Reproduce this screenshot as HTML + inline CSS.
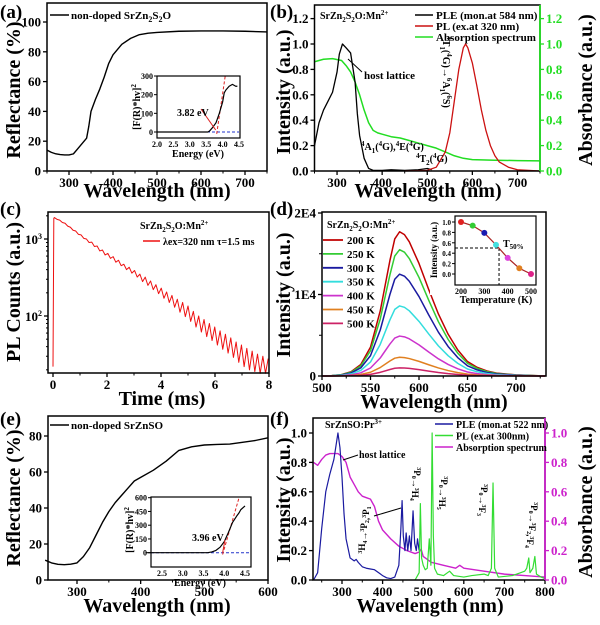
<!DOCTYPE html>
<html><head><meta charset="utf-8"><style>
html,body{margin:0;padding:0;background:#fff}
svg{display:block;font-family:"Liberation Serif",serif;font-weight:bold}
</style></head><body>
<svg id="fig" width="600" height="625" viewBox="0 0 600 625" xmlns="http://www.w3.org/2000/svg"></svg>
<script>
// ---- panel (a) data
const aWl=[250,260,270,280,290,300,310,320,330,340,345,350,360,370,380,390,400,420,440,460,480,500,550,600,650,700,750];
const aRefl=[14,12.5,11.5,11,10.8,10.8,11.5,15,18.5,22,30,40,48,55,63,72,78,85,89,91.5,92.5,93,93.8,94,94,93.8,93.3];
const aInsE=[2.0,3.0,3.55,3.6,3.7,3.8,3.9,4.0,4.05,4.1,4.2,4.3,4.4,4.45];
const aInsY=[0,0,0,5,25,50,100,160,210,225,245,255,245,245];
// ---- panel (b) data
const bPleWl=[250,260,270,280,290,300,305,312,320,330,340,345,350,360,370,380,400,420,450,480,500,510];
const bPle=[0.2,0.38,0.48,0.55,0.62,0.78,0.92,1.0,0.97,0.93,0.7,0.45,0.28,0.1,0.02,0.005,0.005,0.01,0.005,0.01,0.02,0.01];
const bPlWl=[450,500,520,540,550,560,570,580,585,590,600,610,620,630,640,650,660,680,700,750];
const bPl=[0,0.005,0.03,0.15,0.3,0.55,0.8,0.97,1.0,0.97,0.85,0.67,0.48,0.32,0.2,0.12,0.07,0.03,0.01,0];
const bAbsWl=[250,270,290,310,320,330,340,350,360,370,380,390,400,420,440,460,480,500,520,540,560,580,600,650,700,750];
const bAbs=[0.86,0.88,0.885,0.87,0.83,0.78,0.7,0.6,0.48,0.38,0.32,0.3,0.29,0.27,0.26,0.24,0.22,0.2,0.18,0.15,0.12,0.1,0.09,0.085,0.082,0.08];
// ---- panel (c) data
const cCounts=[1900,1800,1760,1640,1600,1470,1420,1300,1270,1150,1130,1020,1000,900,910,800,810,700,720,620,650,560,590,500,530,450,470,400,430,360,390,320,350,280,320,250,285,220,255,195,230,170,205,150,185,130,165,112,150,98,135,85,115,72,100,62,90,54,80,48,72,42,64,37,58,33,52,29,46,25,42,22,38,20,35,19,32,18,30,18,28];
const cStep=0.1;
// ---- panel (d) data
const dWl=[500,510,520,530,540,550,560,570,575,580,585,590,600,610,620,630,640,650,660,670,680,700,730];
const dProfile=[0,0.003,0.01,0.03,0.08,0.2,0.45,0.8,0.95,1.0,0.98,0.93,0.78,0.6,0.43,0.29,0.18,0.1,0.06,0.035,0.02,0.008,0];
const dTemps=["200 K","250 K","300 K","350 K","400 K","450 K","500 K"];
const dPeaks=[17700,15500,12500,8600,4900,2300,1000];
const dColors=["#c00000","#33cc33","#1a1aa0","#33dddd","#cc33cc","#e08020","#cc2266"];
const dInsT=[200,250,300,350,400,450,500];
const dInsI=[1.0,0.93,0.79,0.56,0.31,0.11,0.0];
const dInsC=["#e02020","#33cc33","#1a1ab0","#44e0e0","#dd44dd","#e08020","#dd2288"];
// ---- panel (e) data
const eWl=[250,260,270,280,290,300,310,320,330,340,350,360,370,380,390,400,420,440,460,480,500,520,540,560,580,600];
const eRefl=[11,9.5,8.7,8.5,8.8,9.5,13,18,25,32,38,43,47,51,55,57,61,66,72,74,75,75.3,75.5,76.5,77.5,79];
const eInsE=[2.1,3.0,3.6,3.7,3.8,3.9,4.0,4.1,4.2,4.3,4.35,4.4,4.5];
const eInsY=[0,0,0,8,25,60,120,220,330,400,430,470,510];
// ---- panel (f) data
const fPleWl=[230,240,250,260,270,280,290,295,300,305,310,320,330,335,340,350,360,370,380,390,400,410,420,430,440,445,448,451,455,458,462,466,470,475,479,483,486,490];
const fPle=[0,0.05,0.35,0.6,0.72,0.82,1.0,0.9,0.7,0.45,0.28,0.15,0.13,0.14,0.12,0.09,0.08,0.075,0.07,0.05,0.03,0.015,0.01,0.02,0.1,0.35,0.54,0.3,0.2,0.32,0.2,0.3,0.2,0.47,0.25,0.2,0.28,0.2];
const fPlWl=[480,490,493,496,500,505,510,515,519,522,525,528,535,550,565,575,600,620,650,660,668,672,676,685,720,740,750,755,760,763,770,775,779,790,800];
const fPl=[0,0.05,0.52,0.15,0.1,0.07,0.08,0.28,0.1,1.0,0.3,0.08,0.04,0.03,0.06,0.03,0.02,0.03,0.04,0.03,0.08,0.66,0.08,0.02,0.03,0.05,0.06,0.08,0.15,0.05,0.08,0.16,0.04,0.02,0.01];
const fAbsWl=[230,240,250,260,270,290,300,310,320,330,340,350,360,370,380,390,400,420,440,460,480,490,495,500,520,550,580,590,600,650,700,750,800];
const fAbs=[0.8,0.78,0.82,0.85,0.86,0.86,0.84,0.8,0.7,0.65,0.6,0.57,0.56,0.55,0.5,0.4,0.34,0.28,0.23,0.2,0.18,0.19,0.21,0.16,0.12,0.1,0.08,0.1,0.08,0.06,0.04,0.03,0.02];

const NS="http://www.w3.org/2000/svg";
const svg=document.getElementById('fig');
function el(tag,attrs,parent,txt){const e=document.createElementNS(NS,tag);for(const k in attrs)e.setAttribute(k,attrs[k]);if(txt!==undefined)e.innerHTML=txt;(parent||svg).appendChild(e);return e;}
function lin(d0,d1,r0,r1){return v=>r0+(v-d0)/(d1-d0)*(r1-r0);}
function line(xs,ys,X,Y,color,w,name,extra){
  let d='';for(let i=0;i<xs.length;i++)d+=(i?'L':'M')+X(xs[i]).toFixed(2)+','+Y(ys[i]).toFixed(2);
  const p=el('path',Object.assign({d:d,fill:'none',stroke:color,'stroke-width':w||1.2,'stroke-linejoin':'round'},extra||{}));
  
  
  return p;
}
function txt(x,y,s,size,name,opt){opt=opt||{};
  const t=el('text',Object.assign({x:x,y:y,'font-size':size,fill:opt.fill||'#000','text-anchor':opt.anchor||'start'},opt.tr?{transform:opt.tr}:{}),svg,s);
  
  
  return t;}
function box(x0,y0,x1,y1,name,w){const r=el('rect',{x:x0,y:y0,width:x1-x0,height:y1-y0,fill:'none',stroke:'#000','stroke-width':w||1.5});
  
  }
function xticks(vals,X,yb,labels,size,name,minor){
  vals.forEach((v,i)=>{el('line',{x1:X(v),x2:X(v),y1:yb,y2:yb+4,stroke:'#000','stroke-width':1.3});
    if(labels)txt(X(v),yb+16,labels[i],size||13,name+'-'+labels[i],{anchor:'middle'});});
  (minor||[]).forEach(v=>el('line',{x1:X(v),x2:X(v),y1:yb,y2:yb+2.5,stroke:'#000','stroke-width':1}));
}
function yticks(vals,Y,xl,labels,size,name,color,right){
  const c=color||'#000';
  vals.forEach((v,i)=>{el('line',{x1:xl,x2:right?xl+4:xl-4,y1:Y(v),y2:Y(v),stroke:c,'stroke-width':1.3});
    if(labels)txt(right?xl+6:xl-6,Y(v)+4.5,labels[i],size||13,name+'-'+labels[i],{anchor:right?'start':'end',fill:c});});
}
function vtitle(x,y,s,name,size,fill){txt(x,y,s,size||20,name,{anchor:'middle',tr:`rotate(-90 ${x} ${y})`,fill:fill});}

// ============ (a)
{const X=lin(250,750,47,267),Y=lin(0,100,171,22);
line(aWl,aRefl,X,Y,'#000',1.4,'reflectance-curve-a');
box(47,3,267,171,'plot-frame-a');
xticks([300,400,500,600,700],X,171,['300','400','500','600','700'],13,'x-tick-a',[250,350,450,550,650,750]);
yticks([0,20,40,60,80,100],Y,47,['0','20','40','60','80','100'],13,'y-tick-a');
txt(157,197,'Wavelength (nm)',20,'x-axis-title-a',{anchor:'middle'});
vtitle(20,90,'Reflectance (%)','y-axis-title-a');
txt(0,18,'(a)',19,'panel-label-a');
el('line',{x1:50,x2:69,y1:15,y2:15,stroke:'#000','stroke-width':1.4});
txt(71,19,'non-doped SrZn<tspan font-size="8" dy="3">2</tspan><tspan dy="-3">S</tspan><tspan font-size="8" dy="3">2</tspan><tspan dy="-3">O</tspan>',11,'legend-a');
const IX=lin(2.0,4.5,157,239),IY=lin(0,300,132,76);
el('line',{x1:157,x2:239,y1:IY(0),y2:IY(0),stroke:'#2233cc','stroke-dasharray':'3,2','stroke-width':1});
el('line',{x1:IX(3.82),x2:IX(4.08),y1:IY(-10),y2:IY(300),stroke:'#dd2222','stroke-dasharray':'3,2','stroke-width':1});
line(aInsE,aInsY,IX,IY,'#000',1.2,'inset-tauc-curve-a');
box(157,76,240,138,'inset-frame-a',1.2);
[2.0,2.5,3.0,3.5,4.0,4.5].forEach(v=>{txt(IX(v),147,v.toFixed(1),8,'inset-x-tick-a',{anchor:'middle'});});
[0,100,200,300].forEach(v=>{el('line',{x1:157,x2:154,y1:IY(v),y2:IY(v),stroke:'#000'});txt(153,IY(v)+3,String(v),8,'inset-y-tick-a',{anchor:'end'});});
txt(198,157,'Energy (eV)',10,'inset-x-title-a',{anchor:'middle'});
vtitle(140,107,'[F(R)*hv]<tspan font-size="7" dy="-4">2</tspan>','inset-y-title-a',10);
el('line',{x1:201,x2:IX(3.82)-1,y1:109,y2:IY(0)-2,stroke:'#dd2222','stroke-width':1});
txt(177,116,'3.82 eV',10,'bandgap-label-a');}

// ============ (b)
{const X=lin(250,750,314.5,540),Y=lin(0,1,171,44);
line(bAbsWl,bAbs,X,Y,'#22dd22',1.5,'absorption-curve-b');
line(bPleWl,bPle,X,Y,'#000',1.3,'ple-curve-b');
line(bPlWl,bPl,X,Y,'#cc1111',1.3,'pl-curve-b');
el('rect',{x:314.5,y:5,width:225.5,height:166,fill:'none',stroke:'#000','stroke-width':1.5});
el('line',{x1:540,x2:540,y1:5,y2:171,stroke:'#22dd22','stroke-width':1.8});
xticks([300,400,500,600,700],X,171,['300','400','500','600','700'],13,'x-tick-b',[250,350,450,550,650,750]);
yticks([0,0.2,0.4,0.6,0.8,1.0,1.2],Y,314.5,['0.0','0.2','0.4','0.6','0.8','1.0','1.2'],13,'y-tick-b');
yticks([0,0.2,0.4,0.6,0.8,1.0,1.2],Y,540,['0.0','0.2','0.4','0.6','0.8','1.0','1.2'],13,'y2-tick-b','#22dd22',true);
txt(428,197,'Wavelength (nm)',20,'x-axis-title-b',{anchor:'middle'});
vtitle(290,92,'Intensity (a.u.)','y-axis-title-b');
vtitle(592,90,'Absorbance (a.u.)','y2-axis-title-b');
txt(270,18,'(b)',19,'panel-label-b');
txt(320,19,'SrZn<tspan font-size="7" dy="3">2</tspan><tspan dy="-3">S</tspan><tspan font-size="7" dy="3">2</tspan><tspan dy="-3">O:Mn</tspan><tspan font-size="7" dy="-4">2+</tspan>',10,'sample-label-b');
[['PLE (mon.at 584 nm)','#000'],['PL (ex.at 320 nm)','#cc1111'],['Absorption spectrum','#22dd22']].forEach((l,i)=>{
  const y=15+i*11;el('line',{x1:415,x2:433,y1:y,y2:y,stroke:l[1],'stroke-width':1.5});
  txt(436,y+4,l[0],11,'legend-b-'+i);});
txt(364,79,'host lattice',11,'host-lattice-label-b');
el('line',{x1:362,x2:348,y1:72,y2:59,stroke:'#000','stroke-width':1});
txt(361,150,'<tspan font-size="7" dy="-4">4</tspan><tspan dy="4">A</tspan><tspan font-size="7" dy="3">1</tspan><tspan dy="-3">(</tspan><tspan font-size="7" dy="-4">4</tspan><tspan dy="4">G),</tspan><tspan font-size="7" dy="-4">4</tspan><tspan dy="4">E(</tspan><tspan font-size="7" dy="-4">4</tspan><tspan dy="4">G)</tspan>',10,'transition-label-b1');
txt(416,162,'<tspan font-size="7" dy="-4">4</tspan><tspan dy="4">T</tspan><tspan font-size="7" dy="3">2</tspan><tspan dy="-3">(</tspan><tspan font-size="7" dy="-4">4</tspan><tspan dy="4">G)</tspan>',10,'transition-label-b2');
txt(443,72,'<tspan font-size="7" dy="-4">4</tspan><tspan dy="4">T</tspan><tspan font-size="7" dy="3">1</tspan><tspan dy="-3">(</tspan><tspan font-size="7" dy="-4">4</tspan><tspan dy="4">G)→</tspan><tspan font-size="7" dy="-4">6</tspan><tspan dy="4">A</tspan><tspan font-size="7" dy="3">1</tspan><tspan dy="-3">(</tspan><tspan font-size="7" dy="-4">6</tspan><tspan dy="4">S)</tspan>',10,'transition-label-b3',{anchor:'middle',tr:'rotate(90 443 72)'});}

// ============ (c)
{const X=lin(0,8,53,269);const Y=v=>316-(Math.log10(v)-2)*77;
const t=cCounts.map((v,i)=>0.05+i*cStep*0.99);
line([0,0.03].concat(t),[22,1850].concat(cCounts),X,Y,'#ee1111',1,'decay-curve-c');
box(48,212,269,373,'plot-frame-c');
xticks([0,2,4,6,8],X,373,['0','2','4','6','8'],13,'x-tick-c',[1,3,5,7]);
el('line',{x1:48,x2:44,y1:Y(1000),y2:Y(1000),stroke:'#000','stroke-width':1.3});
el('line',{x1:48,x2:44,y1:Y(100),y2:Y(100),stroke:'#000','stroke-width':1.3});
[20,30,40,50,60,70,80,90,200,300,400,500,600,700,800,900,2000].forEach(v=>el('line',{x1:48,x2:46,y1:Y(v),y2:Y(v),stroke:'#000'}));
txt(42,Y(1000)+5,'10<tspan font-size="8" dy="-5">3</tspan>',13,'y-tick-c-1000',{anchor:'end'});
txt(42,Y(100)+5,'10<tspan font-size="8" dy="-5">2</tspan>',13,'y-tick-c-100',{anchor:'end'});
txt(162,405,'Time (ms)',20,'x-axis-title-c',{anchor:'middle'});
vtitle(20,292,'PL Counts (a.u.)','y-axis-title-c');
txt(0,215,'(c)',19,'panel-label-c');
txt(140,229,'SrZn<tspan font-size="7" dy="3">2</tspan><tspan dy="-3">S</tspan><tspan font-size="7" dy="3">2</tspan><tspan dy="-3">O:Mn</tspan><tspan font-size="7" dy="-4">2+</tspan>',10,'sample-label-c');
el('line',{x1:143,x2:160,y1:241,y2:241,stroke:'#ee1111','stroke-width':1.5});
txt(163,245,'λex=320 nm τ=1.5 ms',10,'legend-c');}

// ============ (d)
{const X=lin(500,700,322,516),Y=lin(0,20000,376,213);
dPeaks.forEach((p,k)=>{line(dWl,dProfile.map(v=>v*p),X,Y,dColors[k],1.5,'emission-curve-'+dTemps[k].replace(' ',''));});
box(322,212,546,376,'plot-frame-d');
xticks([500,550,600,650,700],X,376,['500','550','600','650','700'],13,'x-tick-d',[525,575,625,675,725]);
yticks([0,10000,20000],Y,322,['0','1E4','2E4'],13,'y-tick-d');
[5000,15000].forEach(v=>el('line',{x1:322,x2:319,y1:Y(v),y2:Y(v),stroke:'#000'}));
txt(434,408,'Wavelength (nm)',20,'x-axis-title-d',{anchor:'middle'});
vtitle(290,295,'Intensity (a.u.)','y-axis-title-d');
txt(270,215,'(d)',19,'panel-label-d');
txt(327,228,'SrZn<tspan font-size="7" dy="3">2</tspan><tspan dy="-3">S</tspan><tspan font-size="7" dy="3">2</tspan><tspan dy="-3">O:Mn</tspan><tspan font-size="7" dy="-4">2+</tspan>',10,'sample-label-d');
dTemps.forEach((s,k)=>{const y=240+k*13.9;el('line',{x1:323,x2:343,y1:y,y2:y,stroke:dColors[k],'stroke-width':1.8});txt(347,y+4,s,11,'legend-d-'+s.replace(' ',''));});
const IX=lin(200,500,461,531),IY=lin(0,1,274,222);
el('rect',{x:430,y:215,width:106,height:80,fill:'#fff',stroke:'none'});
el('line',{x1:455,x2:IX(363),y1:IY(0.5),y2:IY(0.5),stroke:'#000','stroke-dasharray':'3,2'});
el('line',{x1:IX(363),x2:IX(363),y1:IY(0.5),y2:285,stroke:'#000','stroke-dasharray':'3,2'});
line(dInsT,dInsI,IX,IY,'#aa2222',1.2,'inset-quench-line-d');
dInsT.forEach((t,k)=>{const c=el('circle',{cx:IX(t),cy:IY(dInsI[k]),r:3,fill:dInsC[k]});
  
  });
box(455,216,536,285,'inset-frame-d',1.2);
[200,300,400,500].forEach(v=>txt(IX(v),294,String(v),8,'inset-x-tick-d',{anchor:'middle'}));
[0,0.2,0.4,0.6,0.8,1.0].forEach(v=>{el('line',{x1:455,x2:452,y1:IY(v),y2:IY(v),stroke:'#000'});txt(451,IY(v)+3,v.toFixed(1),7,'inset-y-tick-d',{anchor:'end'});});
txt(496,303,'Temperature (K)',10,'inset-x-title-d',{anchor:'middle'});
vtitle(437,250,'Intensity (a.u.)','inset-y-title-d',9);
txt(503,247,'T<tspan font-size="7" dy="2">50%</tspan>',10,'t50-label-d');}

// ============ (e)
{const X=lin(300,600,77,268),Y=lin(0,80,580,436);
line(eWl,eRefl,X,Y,'#000',1.4,'reflectance-curve-e');
box(48,416,268,580,'plot-frame-e');
xticks([300,400,500,600],X,580,['300','400','500','600'],13,'x-tick-e',[350,450,550]);
yticks([0,20,40,60,80],Y,48,['0','20','40','60','80'],13,'y-tick-e');
txt(157,612,'Wavelength (nm)',20,'x-axis-title-e',{anchor:'middle'});
vtitle(20,498,'Reflectance (%)','y-axis-title-e');
txt(0,425,'(e)',19,'panel-label-e');
el('line',{x1:50,x2:69,y1:425,y2:425,stroke:'#000','stroke-width':1.4});
txt(71,429,'non-doped SrZnSO',11,'legend-e');
const IX=lin(2.5,4.5,162,245),IY=lin(0,600,552.7,497.7);
el('line',{x1:151,x2:251,y1:IY(0),y2:IY(0),stroke:'#2233cc','stroke-dasharray':'3,2'});
el('line',{x1:IX(3.96),x2:IX(4.35),y1:IY(-20),y2:IY(590),stroke:'#dd2222','stroke-dasharray':'3,2'});
line(eInsE,eInsY,IX,IY,'#000',1.2,'inset-tauc-curve-e');
box(151,497,251,567,'inset-frame-e',1.2);
[2.5,3.0,3.5,4.0,4.5].forEach(v=>txt(IX(v),576,v.toFixed(1),8,'inset-x-tick-e',{anchor:'middle'}));
[0,150,300,450,600].forEach(v=>{el('line',{x1:151,x2:148,y1:IY(v),y2:IY(v),stroke:'#000'});txt(147,IY(v)+3,String(v),8,'inset-y-tick-e',{anchor:'end'});});
txt(200,586,'Energy (eV)',10,'inset-x-title-e',{anchor:'middle'});
vtitle(133,530,'[F(R)*hv]<tspan font-size="7" dy="-4">2</tspan>','inset-y-title-e',10);
el('line',{x1:225,x2:IX(3.96),y1:540,y2:IY(0),stroke:'#dd2222','stroke-width':1});
txt(192,541,'3.96 eV',10,'bandgap-label-e');}

// ============ (f)
{const X=lin(300,800,342,545),Y=lin(0,1,580,433);
line(fAbsWl,fAbs,X,Y,'#cc22cc',1.4,'absorption-curve-f');
line(fPleWl,fPle,X,Y,'#1a1aa0',1.2,'ple-curve-f');
line(fPlWl,fPl,X,Y,'#33dd33',1.2,'pl-curve-f');
el('rect',{x:313,y:418,width:232,height:162,fill:'none',stroke:'#000','stroke-width':1.5});
el('line',{x1:545,x2:545,y1:418,y2:580,stroke:'#cc22cc','stroke-width':1.8});
xticks([300,400,500,600,700,800],X,580,['300','400','500','600','700','800'],13,'x-tick-f',[250,350,450,550,650,750]);
yticks([0,0.2,0.4,0.6,0.8,1.0],Y,313,['0.0','0.2','0.4','0.6','0.8','1.0'],13,'y-tick-f');
yticks([0,0.2,0.4,0.6,0.8,1.0],Y,545,['0.0','0.2','0.4','0.6','0.8','1.0'],13,'y2-tick-f','#cc22cc',true);
txt(430,612,'Wavelength (nm)',20,'x-axis-title-f',{anchor:'middle'});
vtitle(290,500,'Intensity (a.u.)','y-axis-title-f');
vtitle(592,502,'Absorbance (a.u.)','y2-axis-title-f');
txt(270,425,'(f)',19,'panel-label-f');
txt(325,428,'SrZnSO:Pr<tspan font-size="7" dy="-4">3+</tspan>',10,'sample-label-f');
[['PLE (mon.at 522 nm)','#1a1aa0'],['PL (ex.at 300nm)','#33dd33'],['Absorption spectrum','#cc22cc']].forEach((l,i)=>{
  const y=424+i*11.5;el('line',{x1:435,x2:453,y1:y,y2:y,stroke:l[1],'stroke-width':1.5});
  txt(456,y+4,l[0],10,'legend-f-'+i);});
txt(359,458,'host lattice',10,'host-lattice-label-f');
el('line',{x1:358,x2:343,y1:455,y2:460,stroke:'#000'});
el('line',{x1:374,x2:401,y1:516,y2:508,stroke:'#000'});
const sup=(a,b)=>`<tspan font-size="6" dy="-3">${a}</tspan><tspan dy="3">${b}</tspan>`;
const sub=(b,s)=>`${b}<tspan font-size="6" dy="2">${s}</tspan><tspan dy="-2"></tspan>`;
vtitle(365,530,sup(3,sub('H',4))+'→'+sup(3,sub('P',2))+','+sup(3,sub('P',1)),'transition-label-f1',9);
[[414,484,sup(3,sub('P',0))+'→'+sup(3,sub('H',4)),'f2'],[441,493,sup(3,sub('P',0))+'→'+sup(3,sub('H',5)),'f3'],[481,500,sup(3,sub('P',0))+'→'+sup(3,sub('F',3)),'f4'],[531,525,sup(3,sub('P',0))+'→'+sup(3,sub('F',2))+','+sup(3,sub('F',4)),'f5']].forEach(a=>{
  txt(a[0],a[1],a[2],9,'transition-label-'+a[3],{anchor:'middle',tr:`rotate(90 ${a[0]} ${a[1]})`});});}
</script>
</body></html>
